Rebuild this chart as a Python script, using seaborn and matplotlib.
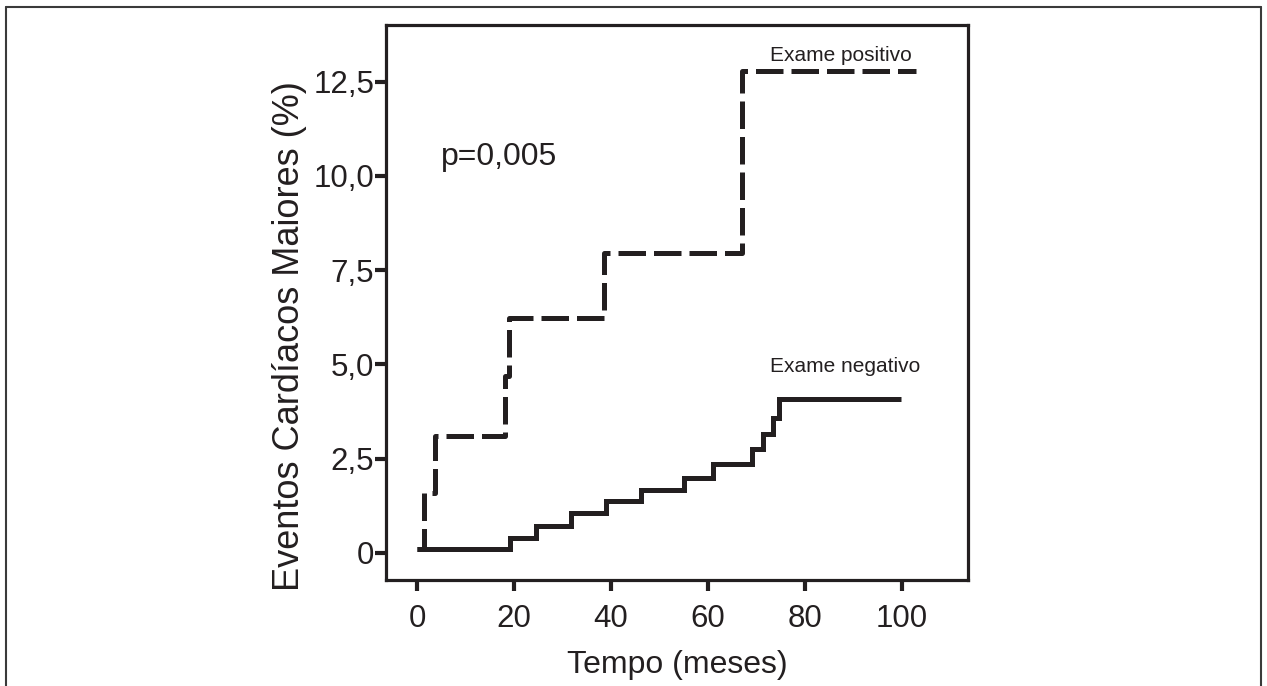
import matplotlib
matplotlib.use("Agg")
import matplotlib.pyplot as plt
from matplotlib.lines import Line2D
import seaborn as sns
import pandas as pd

# ---- data ----
neg_t = [0, 19.2, 24.5, 31.7, 39.0, 46.2, 55.0, 61.0, 69.0, 71.3, 73.4, 74.6, 99.8]
neg_y = [0.1, 0.40, 0.72, 1.06, 1.38, 1.67, 1.99, 2.36, 2.76, 3.15, 3.58, 4.09, 4.09]

pos_t = [0, 1.5, 3.7, 18.1, 19.0, 38.6, 67.0, 102.8]
pos_y = [0.1, 1.6, 3.09, 4.70, 6.24, 7.96, 12.78, 12.78]

x_ticks = [0, 20, 40, 60, 80, 100]
y_ticks = [0, 2.5, 5.0, 7.5, 10.0, 12.5]
y_tick_labels = ["0", "2,5", "5,0", "7,5", "10,0", "12,5"]

label_pos = "Exame positivo"
label_neg = "Exame negativo"
p_text = "p=0,005"
x_label = "Tempo (meses)"
y_label = "Eventos Cardíacos Maiores (%)"

INK = "#231f20"

sns.set_theme(style="ticks")
plt.rcParams["font.family"] = ["Liberation Sans", "DejaVu Sans"]

fig = plt.figure(figsize=(12.67, 6.86), dpi=100)
W, H = 1267, 686
ax = fig.add_axes([386 / W, (H - 580) / H, (968 - 386) / W, (580 - 25) / H])

df_neg = pd.DataFrame({"t": neg_t, "y": neg_y})
df_pos = pd.DataFrame({"t": pos_t, "y": pos_y})

sns.lineplot(data=df_neg, x="t", y="y", ax=ax, drawstyle="steps-post",
             estimator=None, sort=False, color=INK, linewidth=3.6)
sns.lineplot(data=df_pos, x="t", y="y", ax=ax, drawstyle="steps-post",
             estimator=None, sort=False, color=INK, linewidth=3.6)
ax.lines[-1].set_dashes((5.5, 1.6))
for ln in ax.lines:
    ln.set_solid_capstyle("butt")
    ln.set_dash_capstyle("butt")
    ln.set_solid_joinstyle("miter")

ax.set_xlim(-6.4, 113.6)
ax.set_ylim(-0.72, 14.0)
ax.set_xticks(x_ticks)
ax.set_xticklabels([str(v) for v in x_ticks])
ax.set_yticks(y_ticks)
ax.set_yticklabels(y_tick_labels)

for s in ax.spines.values():
    s.set_visible(True)
    s.set_linewidth(2.3)
    s.set_color(INK)

ax.tick_params(axis="both", direction="out", width=3, color=INK,
               labelsize=22.5, labelcolor=INK)
ax.tick_params(axis="x", length=8, pad=9)
ax.tick_params(axis="y", length=8, pad=0.5)

ax.set_xlabel(x_label, fontsize=23, color=INK, labelpad=12)
ax.set_ylabel(y_label, fontsize=26, color=INK)
ax.yaxis.set_label_coords(-0.135, 0.44)

ax.text(72.8, 13.05, label_pos, fontsize=15, color=INK, va="baseline", ha="left")
ax.text(72.8, 4.80, label_neg, fontsize=15, color=INK, va="baseline", ha="left")
ax.text(5.0, 10.29, p_text, fontsize=23, color=INK, va="baseline", ha="left")

# outer frame
fc = "#3a3a3a"
fig.add_artist(Line2D([6 / W, 6 / W], [0, (H - 7) / H], transform=fig.transFigure, color=fc, lw=1.5))
fig.add_artist(Line2D([1261 / W, 1261 / W], [0, (H - 7) / H], transform=fig.transFigure, color=fc, lw=1.5))
fig.add_artist(Line2D([6 / W, 1261 / W], [(H - 7) / H, (H - 7) / H], transform=fig.transFigure, color=fc, lw=1.5))

fig.savefig("out.png", dpi=100)
